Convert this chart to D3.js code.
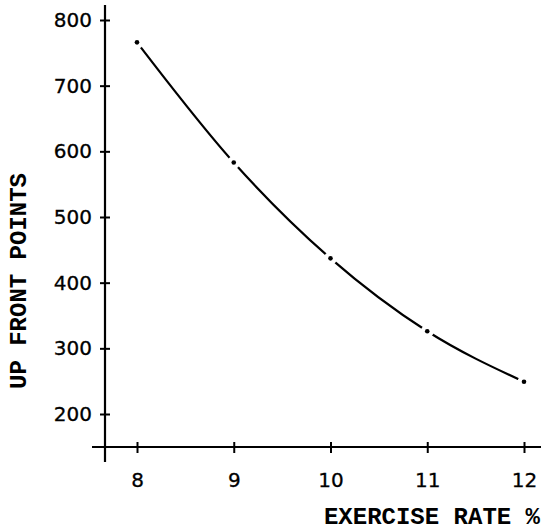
<!DOCTYPE html>
<html>
<head>
<meta charset="utf-8">
<script src="https://cdn.jsdelivr.net/npm/d3@7"></script>
<style>
  body { margin: 0; background: #fff; }
  svg { display: block; }
</style>
</head>
<body>
<div id="chart-area"></div>
<script>
const rates = [8, 9, 10, 11, 12];
const points = [766, 583, 437, 326, 249];
const yTicks = [200, 300, 400, 500, 600, 700, 800];
const xTitle = "EXERCISE RATE %";
const yTitle = "UP FRONT POINTS";

const width = 541, height = 531;
const axisX = 105, axisY = 447;

const svg = d3.select("#chart-area")
    .append("svg")
    .attr("width", width)
    .attr("height", height);

const x = d3.scaleLinear()
    .domain([8, 12])
    .range([137, 524]);

const y = d3.scaleLinear()
    .domain([200, 800])
    .range([414, 20]);

// axis lines drawn by hand, they run past the ticks
svg.append("line")
    .attr("x1", axisX).attr("x2", axisX)
    .attr("y1", 5).attr("y2", 462)
    .attr("stroke", "#000").attr("stroke-width", 2.2);

svg.append("line")
    .attr("x1", 92).attr("x2", width)
    .attr("y1", axisY).attr("y2", axisY)
    .attr("stroke", "#000").attr("stroke-width", 2);

const yAxis = svg.append("g")
    .attr("transform", `translate(${axisX},0)`)
    .call(d3.axisLeft(y).tickValues(yTicks).tickSize(5).tickPadding(8));

const xAxis = svg.append("g")
    .attr("transform", `translate(0,${axisY})`)
    .call(d3.axisBottom(x).tickValues(rates).tickFormat(d3.format("d")).tickSize(6).tickPadding(20));

[yAxis, xAxis].forEach(g => {
    g.select(".domain").remove();
    g.selectAll(".tick line").attr("stroke", "#000").attr("stroke-width", 2);
    g.selectAll(".tick text")
        .attr("fill", "#000")
        .attr("font-family", "'DejaVu Sans', sans-serif")
        .attr("font-size", "20px")
        .attr("stroke", "#000")
        .attr("stroke-width", 0.3);
});
// ticks cross the axis line
yAxis.selectAll(".tick line").attr("x1", 5);
xAxis.selectAll(".tick line").attr("y1", -5);

const data = rates.map((r, i) => ({ r: r, v: points[i] }));

const line = d3.line()
    .x(d => x(d.r))
    .y(d => y(d.v))
    .curve(d3.curveMonotoneX);

svg.append("path")
    .datum(data)
    .attr("d", line)
    .attr("fill", "none")
    .attr("stroke", "#000")
    .attr("stroke-width", 2.2);

// small gaps in the line round each plotted point
svg.selectAll(".gap")
    .data(data)
    .enter()
    .append("circle")
    .attr("class", "gap")
    .attr("cx", d => x(d.r))
    .attr("cy", d => y(d.v))
    .attr("r", 6.5)
    .attr("fill", "#fff");

svg.selectAll(".dot")
    .data(data)
    .enter()
    .append("circle")
    .attr("class", "dot")
    .attr("cx", d => x(d.r))
    .attr("cy", d => y(d.v))
    .attr("r", 2.3)
    .attr("fill", "#000");

svg.append("text")
    .attr("x", width - 1)
    .attr("y", 524)
    .attr("text-anchor", "end")
    .attr("font-family", "'Liberation Mono', 'Courier New', monospace")
    .attr("font-weight", "bold")
    .attr("font-size", "24px")
    .attr("fill", "#000")
    .text(xTitle);

svg.append("text")
    .attr("transform", "translate(26,281) rotate(-90)")
    .attr("text-anchor", "middle")
    .attr("font-family", "'Liberation Mono', 'Courier New', monospace")
    .attr("font-weight", "bold")
    .attr("font-size", "24px")
    .attr("fill", "#000")
    .text(yTitle);
</script>
</body>
</html>
